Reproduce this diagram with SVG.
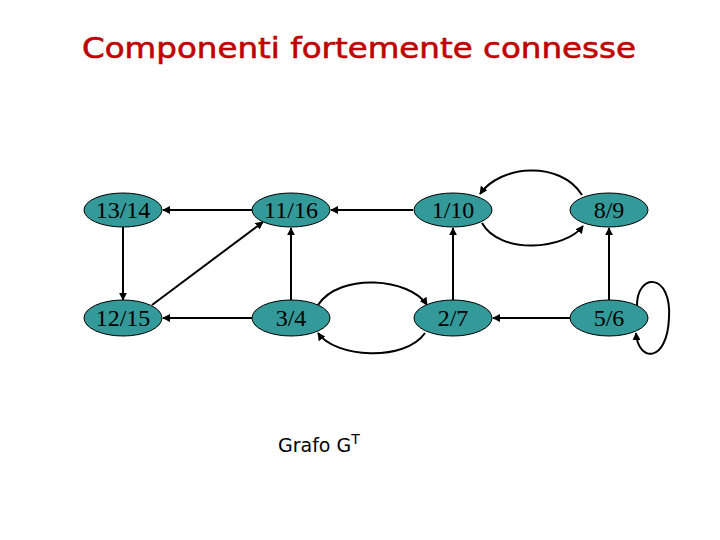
<svg xmlns="http://www.w3.org/2000/svg" width="720" height="540" viewBox="0 0 720 540">
<style>
.node ellipse{fill:#339999;stroke:#000;stroke-width:1}
.node text{font-family:"Liberation Serif","Times New Roman",serif;font-size:24px;fill:#000;text-anchor:middle}
.edge{fill:none;stroke:#000;stroke-width:2;marker-end:url(#ah)}
.title{font-family:"DejaVu Sans","Noto Sans",sans-serif;font-size:29px;fill:#c00000;stroke:#c00000;stroke-width:0.6}
.cap{font-family:"DejaVu Sans","Noto Sans",sans-serif;font-size:19px;fill:#000}
</style>
<defs>
<marker id="ah" viewBox="0 0 10 10" refX="9" refY="5" markerWidth="4" markerHeight="4" orient="auto" markerUnits="strokeWidth">
<path d="M0,0 L10,5 L0,10 z" fill="#000"/>
</marker>
</defs>
<rect width="720" height="540" fill="#fff"/>
<text class="title" x="82" y="58" textLength="554" lengthAdjust="spacingAndGlyphs">Componenti fortemente connesse</text>
<g id="connectors">
<line class="edge" x1="252" y1="210" x2="163" y2="210"/>
<line class="edge" x1="123" y1="227" x2="123" y2="300"/>
<line class="edge" x1="152" y1="305" x2="263" y2="222"/>
<line class="edge" x1="291" y1="301" x2="291" y2="228"/>
<line class="edge" x1="252" y1="318" x2="163" y2="318"/>
<line class="edge" x1="413" y1="210" x2="331" y2="210"/>
<line class="edge" x1="453" y1="301" x2="453" y2="228"/>
<line class="edge" x1="609" y1="301" x2="609" y2="228"/>
<line class="edge" x1="570" y1="318" x2="493" y2="318"/>
<path class="edge" d="M582,195 C560,160 500,165 480,194"/>
<path class="edge" d="M482,223 C500,255 565,250 583,226"/>
<path class="edge" d="M318,305 C340,272 410,278 427,305"/>
<path class="edge" d="M425,333 C405,362 335,358 318,333"/>
<path class="edge" d="M637,307 C636,272 672,272 669,318 C667,364 638,362 636,333"/>
</g>
<g id="n1314" class="node"><ellipse cx="123" cy="210" rx="39" ry="17"/><text x="123" y="218">13/14</text></g>
<g id="n1116" class="node"><ellipse cx="291" cy="210" rx="39" ry="17"/><text x="291" y="218">11/16</text></g>
<g id="n110" class="node"><ellipse cx="453" cy="210" rx="39" ry="17"/><text x="453" y="218">1/10</text></g>
<g id="n89" class="node"><ellipse cx="609" cy="210" rx="39" ry="17"/><text x="609" y="218">8/9</text></g>
<g id="n1215" class="node"><ellipse cx="123" cy="318" rx="39" ry="18"/><text x="123" y="326">12/15</text></g>
<g id="n34" class="node"><ellipse cx="291" cy="318" rx="39" ry="18"/><text x="291" y="326">3/4</text></g>
<g id="n27" class="node"><ellipse cx="453" cy="318" rx="39" ry="18"/><text x="453" y="326">2/7</text></g>
<g id="n56" class="node"><ellipse cx="609" cy="318" rx="39" ry="18"/><text x="609" y="326">5/6</text></g>
<text class="cap" x="278" y="452">Grafo G<tspan font-size="14" dy="-8">T</tspan></text>
</svg>
